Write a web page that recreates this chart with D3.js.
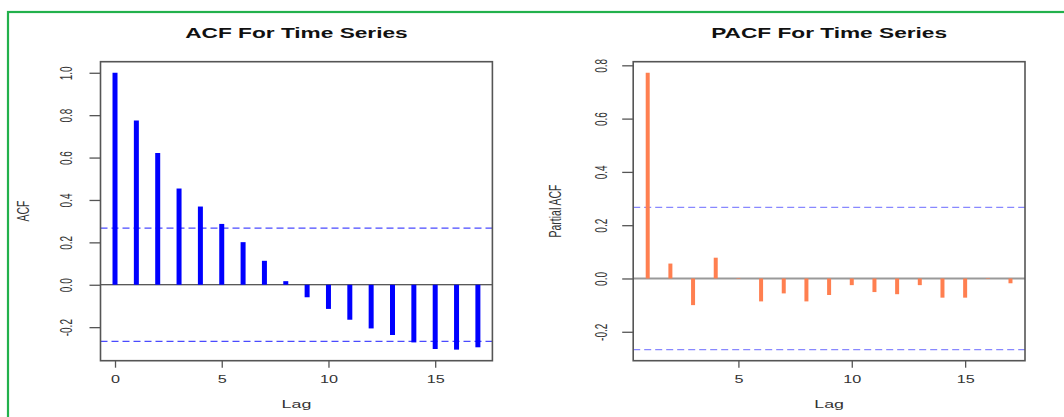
<!DOCTYPE html>
<html lang="en">
<head>
<meta charset="utf-8" />
<script src="https://d3js.org/d3.v7.min.js"></script>
<style>
    body { margin: 0; background: #fff; }
    text { font-family: "Liberation Sans", Arial, sans-serif; }
</style>
</head>
<body>
<script>
    // data
    var acfLags = [0, 1, 2, 3, 4, 5, 6, 7, 8, 9, 10, 11, 12, 13, 14, 15, 16, 17];
    var acfValues = [1.0, 0.775, 0.621, 0.454, 0.369, 0.287, 0.201, 0.113, 0.017, -0.059, -0.114, -0.165, -0.206, -0.237, -0.272, -0.303, -0.306, -0.295];
    var pacfLags = [1, 2, 3, 4, 5, 6, 7, 8, 9, 10, 11, 12, 13, 14, 15, 16, 17];
    var pacfValues = [0.772, 0.056, -0.1, 0.078, -0.002, -0.086, -0.056, -0.086, -0.062, -0.025, -0.051, -0.059, -0.025, -0.072, -0.072, -0.002, -0.018];
    var acfYTicks = [-0.2, 0, 0.2, 0.4, 0.6, 0.8, 1.0];
    var pacfYTicks = [-0.2, 0, 0.2, 0.4, 0.6, 0.8];
    var acfXTicks = [0, 5, 10, 15];
    var pacfXTicks = [5, 10, 15];
    var clim = 0.267;

    var W = 1064, H = 417;
    var sx = 1.62; // the picture is stretched sideways

    var svg = d3.select("body").append("svg")
        .attr("width", W).attr("height", H);

    // green frame
    svg.append("rect")
        .attr("x", 8).attr("y", 12)
        .attr("width", W + 20).attr("height", H + 20)
        .attr("fill", "none").attr("stroke", "#22b14c").attr("stroke-width", 2.2);

    function rng(vals) {
        var lo = d3.min(vals), hi = d3.max(vals);
        var pad = (hi - lo) * 0.04;
        return [lo - pad, hi + pad];
    }

    function panel(p) {
        var x = d3.scaleLinear().domain(rng(p.lags)).range([p.left, p.right]);
        var y = d3.scaleLinear().domain(rng(p.values.concat([clim, -clim]))).range([360.7, 61.7]);
        var g = svg.append("g");

        // dashed limits
        g.selectAll(".lim").data([clim, -clim]).enter().append("line")
            .attr("x1", p.left).attr("x2", p.right)
            .attr("y1", function (d) { return y(d); })
            .attr("y2", function (d) { return y(d); })
            .attr("stroke", p.dashColor).attr("stroke-width", 1.2)
            .attr("stroke-dasharray", "7,4");

        // zero line
        g.append("line")
            .attr("x1", p.left).attr("x2", p.right)
            .attr("y1", y(0)).attr("y2", y(0))
            .attr("stroke", p.zeroColor).attr("stroke-width", p.zeroWidth);

        // stems
        g.selectAll(".stem").data(p.values).enter().append("line")
            .attr("x1", function (d, i) { return x(p.lags[i]); })
            .attr("x2", function (d, i) { return x(p.lags[i]); })
            .attr("y1", y(0))
            .attr("y2", function (d) { return y(d); })
            .attr("stroke", p.color).attr("stroke-width", p.stemWidth);

        // box
        g.append("rect")
            .attr("x", p.left).attr("y", 61.7)
            .attr("width", p.right - p.left).attr("height", 299)
            .attr("fill", "none").attr("stroke", "#555").attr("stroke-width", 1.6);

        // y axis
        var ya = g.append("g")
            .attr("transform", "translate(" + p.left + ",0)")
            .call(d3.axisLeft(y).tickValues(p.yTicks).tickSize(11).tickFormat(d3.format(".1f")));
        ya.select(".domain").remove();
        ya.selectAll("line").attr("stroke", "#555").attr("stroke-width", 1.3);
        ya.selectAll("text")
            .attr("x", null).attr("dy", null)
            .attr("text-anchor", "middle")
            .attr("transform", "translate(" + p.yLabOff + ",0) scale(" + sx + ",1) rotate(-90) translate(0,3.5)")
            .attr("font-size", 10).attr("fill", "#333")
            .text(function (d) { return d3.format(".1f")(d).replace("−", "-"); });

        // x axis
        var xa = g.append("g")
            .attr("transform", "translate(0,360.7)")
            .call(d3.axisBottom(x).tickValues(p.xTicks).tickSize(7));
        xa.select(".domain").remove();
        xa.selectAll("line").attr("stroke", "#555").attr("stroke-width", 1.3);
        xa.selectAll("text")
            .attr("y", null).attr("dy", null)
            .attr("transform", "translate(0,22.5) scale(" + sx + ",1)")
            .attr("font-size", 10).attr("fill", "#333");

        var cx = (p.left + p.right) / 2;
        g.append("text")
            .attr("transform", "translate(" + cx + ",38) scale(" + sx + ",1)")
            .attr("text-anchor", "middle").attr("font-size", 14).attr("font-weight", "bold")
            .attr("fill", "#111").text(p.title);

        g.append("text")
            .attr("transform", "translate(" + cx + ",408) scale(" + sx + ",1)")
            .attr("text-anchor", "middle").attr("font-size", 11)
            .attr("fill", "#333").text("Lag");

        g.append("text")
            .attr("transform", "translate(" + (p.left - 78) + ",211) scale(" + sx + ",1) rotate(-90) translate(0,3.8)")
            .attr("text-anchor", "middle").attr("font-size", 10.5)
            .attr("fill", "#333").text(p.ylab);
    }

    panel({
        lags: acfLags, values: acfValues, left: 100.5, right: 492.4,
        yTicks: acfYTicks, xTicks: acfXTicks, yLabOff: -34,
        color: "#0000ff", stemWidth: 5, zeroColor: "#222", zeroWidth: 1.2,
        dashColor: "#4a4aff", title: "ACF For Time Series", ylab: "ACF"
    });

    panel({
        lags: pacfLags, values: pacfValues, left: 633.2, right: 1025,
        yTicks: pacfYTicks, xTicks: pacfXTicks, yLabOff: -31.5,
        color: "#ff7f50", stemWidth: 4, zeroColor: "#999", zeroWidth: 2,
        dashColor: "#8888ff", title: "PACF For Time Series", ylab: "Partial ACF"
    });
</script>
</body>
</html>
